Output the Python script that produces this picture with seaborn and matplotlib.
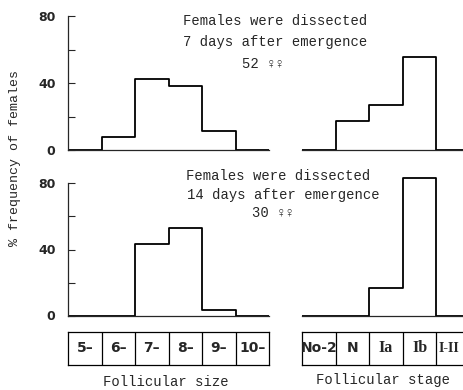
import numpy as np
import matplotlib
matplotlib.use("Agg")
import matplotlib.pyplot as plt
import seaborn as sns

# bins along the two x axes
size_labels = ["5–", "6–", "7–", "8–", "9–", "10–"]
stage_labels = ["No-2", "N", "Ia", "Ib", "I-II"]

# % frequency of females
size_7d = [0, 7.7, 42.3, 38.5, 11.5, 0]
stage_7d = [0, 17.3, 26.9, 55.8, 0]
size_14d = [0, 0, 43.3, 53.3, 3.3, 0]
stage_14d = [0, 0, 16.7, 83.3, 0]

sns.set_style("ticks")
plt.rcParams["font.family"] = ["DejaVu Sans"]
mono = ["Liberation Mono", "DejaVu Sans Mono", "DejaVu Sans"]

W, H = 463, 390
fig = plt.figure(figsize=(W / 100, H / 100), dpi=100)


def rect(x0, y0, x1, y1):
    # pixel box -> figure fraction
    return [x0 / W, 1 - y1 / H, (x1 - x0) / W, (y1 - y0) / H]


def hist_panel(box, vals, with_y):
    ax = fig.add_axes(box)
    idx = np.arange(len(vals))
    sns.histplot(x=idx, weights=vals, discrete=True, element="step", fill=False,
                 color="black", linewidth=1.3, ax=ax)
    ax.set_xlim(-0.5, len(vals) - 0.5)
    ax.set_ylim(0, 86)
    ax.set_xlabel("")
    ax.set_ylabel("")
    ax.set_xticks([])
    for s in ["top", "right"]:
        ax.spines[s].set_visible(False)
    ax.spines["bottom"].set_linewidth(0.9)
    if with_y:
        ax.spines["left"].set_bounds(0, 80)
        ax.spines["left"].set_linewidth(0.9)
        ax.set_yticks([0, 20, 40, 60, 80], labels=["0", "", "40", "", "80"])
        ax.tick_params(axis="y", direction="in", length=5, width=0.8, pad=9,
                       labelsize=9)
        for t in ax.get_yticklabels():
            t.set_fontweight("bold")
    else:
        ax.spines["left"].set_visible(False)
        ax.set_yticks([])
    ax.patch.set_alpha(0)
    return ax


hist_panel(rect(68, 6, 269, 150), size_7d, True)
hist_panel(rect(302, 6, 470, 150), stage_7d, False)
hist_panel(rect(68, 173.6, 269, 315.5), size_14d, True)
hist_panel(rect(302, 173.6, 470, 315.5), stage_14d, False)


def label_row(box, labels, fams, sizes, shift):
    ax = fig.add_axes(box)
    n = len(labels)
    ax.set_xlim(-0.5, n - 0.5)
    ax.set_ylim(0, 1)
    ax.set_xticks([])
    ax.set_yticks([])
    for s in ax.spines.values():
        s.set_visible(True)
        s.set_linewidth(0.9)
        s.set_color("black")
    for e in np.arange(0.5, n - 0.5):
        ax.axvline(e, color="black", linewidth=0.9)
    for i, lab in enumerate(labels):
        ax.text(i + shift[i], 0.5, lab, ha="center", va="center", fontsize=sizes[i],
                fontweight="bold", family=fams[i])
    return ax


label_row(rect(68, 332, 269, 365), size_labels, [["DejaVu Sans"]] * 6, [10] * 6,
          [0] * 6)
label_row(rect(302, 332, 470, 365), stage_labels,
          [["DejaVu Sans"], ["DejaVu Sans"], ["Liberation Serif"],
           ["Liberation Serif"], ["Liberation Serif"]],
          [10, 10, 11.5, 11.5, 10], [0, 0, 0, 0, -0.12])


def ftext(x, y, s, **kw):
    fig.text(x / W, 1 - y / H, s, ha="center", va="center", family=mono, **kw)


ftext(275, 21, "Females were dissected", fontsize=10)
ftext(275, 42, "7 days after emergence", fontsize=10)
ftext(263, 64, "52 ♀♀", fontsize=10)
ftext(278, 176, "Females were dissected", fontsize=10)
ftext(283, 195, "14 days after emergence", fontsize=10)
ftext(273, 213, "30 ♀♀", fontsize=10)

ftext(15, 158, "% frequency of females", fontsize=9.5, rotation=90)
ftext(166, 382, "Follicular size", fontsize=10)
ftext(383, 380, "Follicular stage", fontsize=10)

fig.savefig("out.png", dpi=100, facecolor="white")
